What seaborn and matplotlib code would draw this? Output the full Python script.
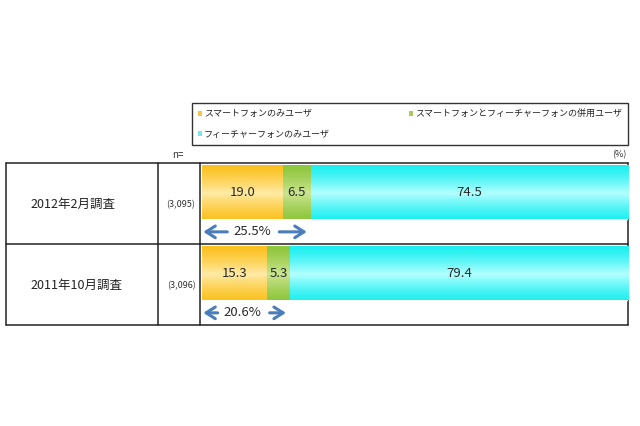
import numpy as np
import pandas as pd
import matplotlib
matplotlib.use('Agg')
import matplotlib.pyplot as plt
import matplotlib.colors as mcolors
from matplotlib.patches import Patch
import seaborn as sns

# ---------------------------------------------
# DATA
# ---------------------------------------------
surveys = ['2012年2月調査', '2011年10月調査']
n_labels = ['(3,095)', '(3,096)']
segments = ['スマートフォンのみユーザ',
            'スマートフォンとフィーチャーフォンの併用ユーザ',
            'フィーチャーフォンのみユーザ']
smart_only = [19.0, 15.3]
both = [6.5, 5.3]
feature_only = [74.5, 79.4]
smart_total_labels = ['25.5%', '20.6%']

# ---------------------------------------------
# STYLE
# ---------------------------------------------
edge_colors = ['#FBC11F', '#8EC63C', '#1DEFF0']
mid_colors = ['#FFEBA6', '#CBE592', '#B4FFFF']
legend_colors = ['#F3C64A', '#A9CB5C', '#7FE3EC']
arrow_color = '#4A7DB9'
line_color = '#222222'

sns.set_theme(style='white')
plt.rcParams['font.family'] = ['Noto Sans CJK JP', 'DejaVu Sans']

W, H = 640, 426
fig = plt.figure(figsize=(6.4, 4.26), dpi=100)
fig.patch.set_facecolor('white')

# background layer in pixel coordinates (table frame + left columns)
bg = fig.add_axes([0, 0, 1, 1])
bg.set_xlim(0, W)
bg.set_ylim(H, 0)
bg.axis('off')

tab_l, col1, col2, tab_r = 6, 158, 200, 628
row_top, row_h = 163, 81
n_rows = len(surveys)
for k in range(n_rows + 1):
    y = row_top + k * row_h
    bg.plot([tab_l, tab_r], [y, y], color=line_color, lw=1.1)
for x in [tab_l, col1, col2, tab_r]:
    bg.plot([x, x], [row_top, row_top + n_rows * row_h], color=line_color, lw=1.1)

for i, (lab, n) in enumerate(zip(surveys, n_labels)):
    yc = row_top + row_h * (i + 0.5) + 1
    bg.text(30, yc, lab, ha='left', va='center', fontsize=9, color='#222222')
    bg.text(181, yc, n, ha='center', va='center', fontsize=6.5, color='#333333')

bg.text(178, 155, 'n=', ha='center', va='center', fontsize=7, color='#333333')
bg.text(619, 155, '(%)', ha='center', va='center', fontsize=6.5, color='#333333')

# ---------------------------------------------
# STACKED BARS
# ---------------------------------------------
df = pd.DataFrame({'survey': surveys, 'smart': smart_only,
                   'both': both, 'feature': feature_only})
df['cum1'] = df['smart']
df['cum2'] = df['cum1'] + df['both']
df['cum3'] = df['cum2'] + df['feature']

ax = fig.add_axes([202 / W, 1 - (row_top + n_rows * row_h) / H,
                   426 / W, n_rows * row_h / H])
ax.patch.set_alpha(0)

bar_w = 0.66
value_cols = ['smart', 'both', 'feature']
cum_cols = ['cum1', 'cum2', 'cum3']
seg_patches = {}
for j in [2, 1, 0]:
    before = len(ax.patches)
    sns.barplot(data=df, x=cum_cols[j], y='survey', orient='h', width=bar_w,
                color=edge_colors[j], saturation=1, ax=ax)
    seg_patches[j] = ax.patches[before:]

# vertical gradient on each visible segment
t = np.linspace(0, 1, 64)
w = np.clip(1 - np.abs(t - 0.52) / 0.52, 0, 1) ** 1.3
for j in range(3):
    c0 = np.array(mcolors.to_rgb(edge_colors[j]))
    c1 = np.array(mcolors.to_rgb(mid_colors[j]))
    grad = (c0[None, :] * (1 - w[:, None]) + c1[None, :] * w[:, None])[:, None, :]
    for i, p in enumerate(seg_patches[j]):
        right = df[cum_cols[j]].iloc[i]
        left = right - df[value_cols[j]].iloc[i]
        y0 = p.get_y()
        y1 = y0 + p.get_height()
        ax.imshow(grad, extent=(left, right, y1, y0), aspect='auto',
                  origin='upper', zorder=2, interpolation='bilinear')
        ax.text((left + right) / 2, i, f'{df[value_cols[j]].iloc[i]:.1f}',
                ha='center', va='center', fontsize=9.5, color='#2a2a2a', zorder=3)

# arrows showing total smartphone users
for i, lab in enumerate(smart_total_labels):
    tot = df['cum2'].iloc[i]
    ya = i + 0.49
    xt = tot * 0.46
    ax.text(xt, ya, lab, ha='center', va='center', fontsize=9.5,
            color='#2a2a2a', zorder=3)
    props = dict(arrowstyle='->,head_length=0.55,head_width=0.35',
                 color=arrow_color, lw=2.2, shrinkA=0, shrinkB=0)
    ax.annotate('', xy=(0.3, ya), xytext=(xt - 5.8, ya), arrowprops=props)
    ax.annotate('', xy=(tot - 0.9, ya), xytext=(xt + 6.4, ya), arrowprops=props)

ax.set_xlim(0, 100)
ax.set_ylim(n_rows - 1 + 0.64, -0.36)
ax.set_axis_off()

# ---------------------------------------------
# LEGEND
# ---------------------------------------------
order = [0, 2, 1]
handles = [Patch(facecolor=legend_colors[k], edgecolor='none') for k in order]
labels = [segments[k] for k in order]
leg = fig.legend(handles, labels, ncols=2, mode='expand',
                 bbox_to_anchor=(192 / W, 1 - 146 / H, (628 - 192) / W, 43 / H),
                 loc='upper left', borderaxespad=0, fontsize=6.5,
                 handlelength=0.45, handleheight=0.45, handletextpad=0.15,
                 labelspacing=1.25, borderpad=0.7, fancybox=False,
                 framealpha=1, edgecolor='#333333')
leg.get_frame().set_linewidth(1.0)
for txt in leg.get_texts():
    txt.set_color('#222222')

fig.savefig('out.png', dpi=100)
